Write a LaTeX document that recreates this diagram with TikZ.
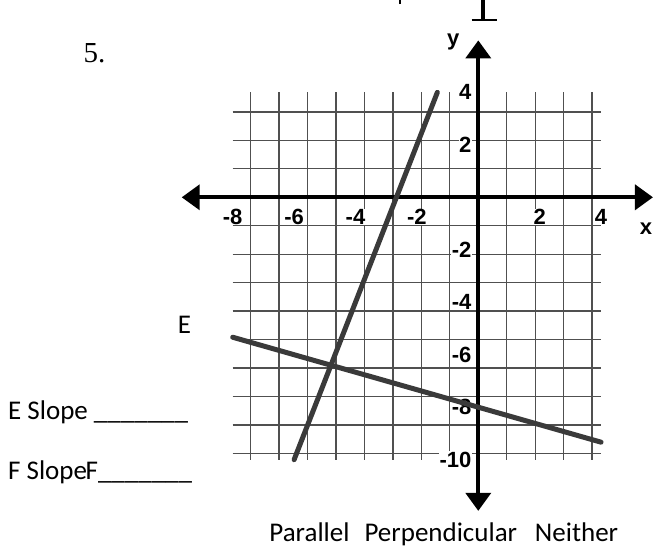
\documentclass[tikz,border=0pt]{standalone}
\usepackage{fontspec}
\setmainfont{Carlito}
\newfontfamily\axisfont{Liberation Sans}
\newfontfamily\numfont{Liberation Serif}
\usepackage{tikz}
\definecolor{gridgray}{RGB}{80,80,80}
\definecolor{linegray}{RGB}{58,58,58}
\usetikzlibrary{arrows.meta}

\begin{document}
\begin{tikzpicture}[x=30.7pt, y=26.24pt,
    >={Triangle[length=18pt,width=25pt]},
    gridline/.style={gridgray, line width=1.3pt},
    axisline/.style={line width=3.8pt, <->},
    graphline/.style={linegray, line width=5pt, line cap=round},
    ticklabel/.style={font=\axisfont\bfseries\fontsize{22}{22}\selectfont, fill=white, inner sep=0.5pt},
    axislabel/.style={font=\axisfont\bfseries\fontsize{22}{22}\selectfont, inner sep=0pt},
    wordlabel/.style={font=\fontsize{27}{27}\selectfont, inner sep=0pt}]
    \useasboundingbox (-15.58,-13.44) rectangle (5.756,7.519);

    % Problem number and cut-off glyph at the top
    \node[font=\numfont\fontsize{29}{29}\selectfont, anchor=base west, inner sep=0pt] (num) at (-12.86,5.12) {5.};
    \draw[line width=3.5pt] (0.153,6.757) -- (0.153,7.6);
    \draw[line width=2.6pt] (-0.215,6.757) -- (0.6,6.757);
    \draw[line width=1.5pt] (-2.55,7.36) -- (-2.55,7.6);

    % Grid
    \draw[gridline] (-8,-10) grid (4,4);

    % Axes
    \coordinate (xmin) at (-9.66,0);
    \coordinate (xmax) at (5.69,0);
    \coordinate (ymin) at (0,-11.95);
    \coordinate (ymax) at (0,5.98);
    \draw[axisline] (xmin) -- (xmax);
    \draw[axisline] (ymin) -- (ymax);
    \node[axislabel] (xlab) at (5.46,-1.21) {x};
    \node[axislabel] (ylab) at (-0.82,5.92) {y};

    % Tick labels
    \foreach \t in {-8,-6,-4,-2,2,4}
        \node[ticklabel] (xt\t) at (\t,-0.74) {\t};
    \foreach \t in {-10,-8,-6,-4,-2,2,4}
        \node[ticklabel, anchor=east] (yt\t) at (-0.2,\t) {\t};

    % Lines E and F
    \coordinate (E1) at (-8,-5.333);
    \coordinate (E2) at (4,-9.333);
    \coordinate (F1) at (-6,-10);
    \coordinate (F2) at (-1.333,4);
    \draw[graphline] (E1) -- (E2);
    \draw[graphline] (F1) -- (F2);

    % Questions
    \node[wordlabel] (elab) at (-9.567,-4.85) {E};
    \node[wordlabel, anchor=base west] (eslope) at (-15.32,-8.46) {E Slope \_\_\_\_\_\_\_};
    \node[wordlabel, anchor=base west] (fslope) at (-15.32,-10.75) {F Slope\kern-1.5pt F\_\_\_\_\_\_\_};

    % Choices
    \node[wordlabel, anchor=base] (par) at (-5.5,-13.1) {Parallel};
    \node[wordlabel, anchor=base] (perp) at (-1.22,-13.1) {Perpendicular};
    \node[wordlabel, anchor=base] (neith) at (3.2,-13.1) {Neither};
\end{tikzpicture}
\end{document}
